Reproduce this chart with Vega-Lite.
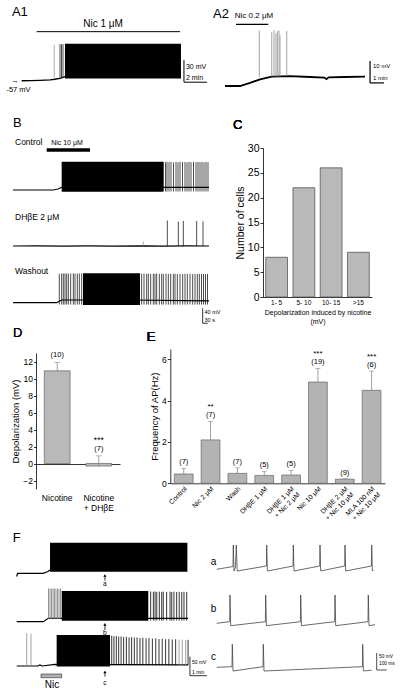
{
"$schema": "https://vega.github.io/schema/vega-lite/v6.json",
"width": 400, "height": 693, "padding": 0, "autosize": {"type": "none"},
"background": "white",
"config": {"font": "Liberation Sans", "view": {"stroke": null},
  "axis": {"labelFont": "Liberation Sans", "titleFont": "Liberation Sans", "labelColor": "black", "titleColor": "black", "domainColor": "black", "tickColor": "black", "titleFontWeight": "normal", "domainWidth": 0.8, "tickWidth": 0.8, "tickSize": 3, "grid": false, "labelPadding": 2},
  "text": {"font": "Liberation Sans", "color": "black", "fill": "black"}},
"datasets": {
"traces": [
{"p":"A1","k":"line","t":0.15,"v":-57},{"p":"A1","k":"line","t":0.87,"v":-56.9},{"p":"A1","k":"line","t":1.74,"v":-56.5},{"p":"A1","k":"line","t":2.61,"v":-55.8},{"p":"A1","k":"line","t":3.04,"v":-55.0},{"p":"A1","k":"line","t":3.48,"v":-53.8},{"p":"A1","k":"line","t":3.74,"v":-52.3},{"p":"A1","k":"line","t":3.91,"v":-51.3},{"p":"A1","k":"line","t":14.0,"v":-51.3},
{"p":"A1","k":"blk","t":3.91,"t2":14.0,"v":-54,"v2":-6.5},
{"p":"A1","k":"spkg","t":2.98,"v":-55,"v2":-8},
{"p":"A1","k":"spk","t":3.48,"v":-53,"v2":-7},{"p":"A1","k":"spk","t":3.61,"v":-53,"v2":-7.5},{"p":"A1","k":"spk","t":3.74,"v":-52,"v2":-7},
{"p":"A1","k":"rul","t":1.45,"t2":13.91,"v":9.85,"v2":9.85},{"p":"A1","k":"rul","t":14.26,"t2":14.26,"v":-59,"v2":-29},{"p":"A1","k":"rul","t":14.26,"t2":16.26,"v":-59,"v2":-59},
{"p":"A1","k":"labc","t":7.22,"v":20.3,"s":"Nic 1 μM"},
{"p":"A1","k":"labcs","t":-0.43,"v":-57,"s":"→"},{"p":"A1","k":"labcs","t":-0.13,"v":-69.7,"s":"-57 mV"},
{"p":"A1","k":"let","t":-0.70,"v":36,"s":"A1"},
{"p":"A1","k":"sb","t":14.43,"v":-37.9,"s":"30 mV"},{"p":"A1","k":"sb","t":14.43,"v":-52.6,"s":"2 min"},

{"p":"A2","k":"line","t":0,"v":-57},{"p":"A2","k":"line","t":1.07,"v":-57},{"p":"A2","k":"line","t":1.79,"v":-55.6},{"p":"A2","k":"line","t":2.5,"v":-54},{"p":"A2","k":"line","t":3.34,"v":-52.7},{"p":"A2","k":"line","t":4.64,"v":-52.5},{"p":"A2","k":"line","t":6.07,"v":-52.9},{"p":"A2","k":"line","t":7.1,"v":-53.2},{"p":"A2","k":"line","t":7.25,"v":-53.9},{"p":"A2","k":"line","t":7.4,"v":-53.1},{"p":"A2","k":"line","t":8.57,"v":-52.9},{"p":"A2","k":"line","t":10,"v":-52.7},
{"p":"A2","k":"spkg","t":2.45,"v":-53,"v2":-31.9},{"p":"A2","k":"spkg","t":3.34,"v":-52.7,"v2":-32.5},{"p":"A2","k":"spkg","t":3.5,"v":-52.7,"v2":-31.5},{"p":"A2","k":"spkg","t":3.64,"v":-52.7,"v2":-33},{"p":"A2","k":"spkg","t":3.74,"v":-52.7,"v2":-32},{"p":"A2","k":"spkg","t":3.86,"v":-52.6,"v2":-31.8},{"p":"A2","k":"spkg","t":3.93,"v":-52.6,"v2":-34},{"p":"A2","k":"spkg","t":4.41,"v":-52.5,"v2":-32},
{"p":"A2","k":"rul","t":0.79,"t2":3.09,"v":-28.95,"v2":-28.95},{"p":"A2","k":"rul","t":10.36,"t2":10.36,"v":-55.6,"v2":-45.6},{"p":"A2","k":"rul","t":10.36,"t2":11.36,"v":-55.6,"v2":-55.6},
{"p":"A2","k":"labc","t":2.07,"v":-25,"s":"Nic 0.2 μM"},
{"p":"A2","k":"let","t":-0.86,"v":-24.3,"s":"A2"},
{"p":"A2","k":"sb","t":10.57,"v":-47.9,"s":"10 mV"},{"p":"A2","k":"sb","t":10.57,"v":-53.4,"s":"1 min"},

{"p":"B1","k":"line","t":0,"v":-60},{"p":"B1","k":"line","t":241.8,"v":-60},{"p":"B1","k":"line","t":270,"v":-57.3},{"p":"B1","k":"line","t":292.2,"v":-52.8},{"p":"B1","k":"line","t":1176,"v":-52.8},
{"p":"B1","k":"blk","t":292,"t2":900,"v":-64.5,"v2":15.5},
{"p":"B1","k":"spk","t":903,"v":-64,"v2":15},{"p":"B1","k":"spk","t":915,"v":-64,"v2":14},{"p":"B1","k":"spk","t":924,"v":-64,"v2":15.5},{"p":"B1","k":"spk","t":936,"v":-64,"v2":14.5},{"p":"B1","k":"spk","t":948,"v":-64,"v2":15},{"p":"B1","k":"spk","t":963,"v":-64,"v2":13.5},{"p":"B1","k":"spk","t":978,"v":-64,"v2":15},{"p":"B1","k":"spk","t":990,"v":-64,"v2":14},{"p":"B1","k":"spk","t":1002,"v":-64,"v2":15.5},{"p":"B1","k":"spk","t":1017,"v":-64,"v2":14.5},{"p":"B1","k":"spk","t":1032,"v":-64,"v2":15},{"p":"B1","k":"spk","t":1044,"v":-64,"v2":13.8},{"p":"B1","k":"spk","t":1056,"v":-64,"v2":15},{"p":"B1","k":"spk","t":1068,"v":-64,"v2":14.2},{"p":"B1","k":"spk","t":1083,"v":-64,"v2":15.2},{"p":"B1","k":"spk","t":1098,"v":-64,"v2":14},{"p":"B1","k":"spk","t":1110,"v":-64,"v2":15},{"p":"B1","k":"spk","t":1122,"v":-64,"v2":14.5},{"p":"B1","k":"spk","t":1134,"v":-64,"v2":15},{"p":"B1","k":"spk","t":1146,"v":-64,"v2":13.9},{"p":"B1","k":"spk","t":1158,"v":-64,"v2":14.8},{"p":"B1","k":"spk","t":1170,"v":-64,"v2":14.3},
{"p":"B1","k":"rulT","t":202,"t2":462,"v":46.7,"v2":46.7},
{"p":"B1","k":"lab","t":12,"v":68.8,"s":"Control"},
{"p":"B1","k":"labc","t":324,"v":65.3,"s":"Nic 10 μM"},
{"p":"B1","k":"let","t":0,"v":118.7,"s":"B"},

{"p":"B2","k":"line","t":0,"v":-60},{"p":"B2","k":"line","t":150,"v":-59.6},{"p":"B2","k":"line","t":300,"v":-60.3},{"p":"B2","k":"line","t":450,"v":-59.7},{"p":"B2","k":"line","t":600,"v":-60.4},{"p":"B2","k":"line","t":780,"v":-59.5},{"p":"B2","k":"line","t":900,"v":-60.2},{"p":"B2","k":"line","t":1050,"v":-59.8},{"p":"B2","k":"line","t":1176,"v":-60},
{"p":"B2","k":"spk","t":926,"v":-60,"v2":8},{"p":"B2","k":"spk","t":992,"v":-60,"v2":5},{"p":"B2","k":"spk","t":1022,"v":-60,"v2":7},{"p":"B2","k":"spk","t":1102,"v":-60,"v2":6.7},{"p":"B2","k":"spk","t":1140,"v":-60,"v2":6},
{"p":"B2","k":"spkg","t":782,"v":-60,"v2":-48},
{"p":"B2","k":"lab","t":12,"v":16.5,"s":"DHβE 2 μM"},

{"p":"B3","k":"line","t":0,"v":-60},{"p":"B3","k":"line","t":262,"v":-60},{"p":"B3","k":"line","t":292,"v":-52.8},{"p":"B3","k":"line","t":700,"v":-52.8},{"p":"B3","k":"line","t":1176,"v":-55},
{"p":"B3","k":"blk","t":420,"t2":762,"v":-66,"v2":18.4},
{"p":"B3","k":"spk","t":277.8,"v":-65,"v2":17},{"p":"B3","k":"spk","t":292,"v":-65,"v2":18},{"p":"B3","k":"spk","t":302,"v":-65,"v2":17.5},{"p":"B3","k":"spk","t":312,"v":-65,"v2":18.4},{"p":"B3","k":"spk","t":322,"v":-65,"v2":17},{"p":"B3","k":"spk","t":332,"v":-65,"v2":18},{"p":"B3","k":"spk","t":346,"v":-65,"v2":17.6},{"p":"B3","k":"spk","t":362,"v":-65,"v2":18.2},{"p":"B3","k":"spk","t":372,"v":-65,"v2":17.3},{"p":"B3","k":"spk","t":386,"v":-65,"v2":18},{"p":"B3","k":"spk","t":398,"v":-65,"v2":17.8},{"p":"B3","k":"spk","t":412,"v":-65,"v2":18.3},
{"p":"B3","k":"spk","t":772,"v":-65,"v2":17.5},{"p":"B3","k":"spk","t":786,"v":-65,"v2":18},{"p":"B3","k":"spk","t":802,"v":-65,"v2":17},{"p":"B3","k":"spk","t":812,"v":-65,"v2":17.8},{"p":"B3","k":"spk","t":826,"v":-65,"v2":16.8},{"p":"B3","k":"spk","t":842,"v":-65,"v2":17.6},{"p":"B3","k":"spk","t":852,"v":-65,"v2":17},{"p":"B3","k":"spk","t":862,"v":-65,"v2":17.9},{"p":"B3","k":"spk","t":878,"v":-65,"v2":16.9},{"p":"B3","k":"spk","t":892,"v":-65,"v2":17.4},{"p":"B3","k":"spk","t":902,"v":-65,"v2":16.6},{"p":"B3","k":"spk","t":918,"v":-65,"v2":17.5},{"p":"B3","k":"spk","t":932,"v":-65,"v2":16.8},{"p":"B3","k":"spk","t":946,"v":-65,"v2":17.2},{"p":"B3","k":"spk","t":962,"v":-65,"v2":16.5},{"p":"B3","k":"spk","t":972,"v":-65,"v2":17.3},{"p":"B3","k":"spk","t":986,"v":-65,"v2":16.7},{"p":"B3","k":"spk","t":1002,"v":-65,"v2":17.1},{"p":"B3","k":"spk","t":1018,"v":-65,"v2":16.4},{"p":"B3","k":"spk","t":1032,"v":-65,"v2":17},{"p":"B3","k":"spk","t":1046,"v":-65,"v2":16.6},{"p":"B3","k":"spk","t":1062,"v":-65,"v2":17.2},{"p":"B3","k":"spk","t":1078,"v":-65,"v2":16.3},{"p":"B3","k":"spk","t":1092,"v":-65,"v2":16.9},{"p":"B3","k":"spk","t":1106,"v":-65,"v2":16.5},{"p":"B3","k":"spk","t":1118,"v":-65,"v2":17},{"p":"B3","k":"spk","t":1131,"v":-65,"v2":16.4},{"p":"B3","k":"spk","t":1143,"v":-65,"v2":16.8},{"p":"B3","k":"spk","t":1155,"v":-65,"v2":16.2},{"p":"B3","k":"spk","t":1167,"v":-65,"v2":16.7},
{"p":"B3","k":"rul","t":1138,"t2":1138,"v":-114.9,"v2":-74.9},{"p":"B3","k":"rul","t":1138,"t2":1168,"v":-114.9,"v2":-114.9},
{"p":"B3","k":"lab","t":12,"v":24.5,"s":"Washout"},
{"p":"B3","k":"sb","t":1149,"v":-84,"s":"40 mV"},{"p":"B3","k":"sb","t":1149,"v":-104.8,"s":"30 s"},

{"p":"Fa","k":"line","t":0,"v":-68.4},{"p":"Fa","k":"line","t":0.05,"v":-60},{"p":"Fa","k":"line","t":1.56,"v":-60},{"p":"Fa","k":"line","t":1.84,"v":-55.3},{"p":"Fa","k":"line","t":1.96,"v":-51.3},
{"p":"Fa","k":"blk","t":1.96,"t2":10.04,"v":-55.8,"v2":20.5},
{"p":"Fa","k":"rul","t":5.19,"t2":5.19,"v":-79.5,"v2":-67.1},
{"p":"Fa","k":"arr","t":5.19,"v":-65.8},
{"p":"Fa","k":"labc","t":5.19,"v":-88.2,"s":"a"},
{"p":"Fa","k":"let","t":-0.235,"v":34.2,"s":"F"},

{"p":"Fb","k":"line","t":0,"v":-60},{"p":"Fb","k":"line","t":1.56,"v":-60},{"p":"Fb","k":"line","t":1.86,"v":-51.1},{"p":"Fb","k":"line","t":10.08,"v":-51.1},
{"p":"Fb","k":"spkg","t":1.87,"v":-53,"v2":27.9},{"p":"Fb","k":"spkg","t":1.96,"v":-53,"v2":26.5},{"p":"Fb","k":"spkg","t":2.05,"v":-53,"v2":27.5},{"p":"Fb","k":"spkg","t":2.14,"v":-53,"v2":26.8},{"p":"Fb","k":"spkg","t":2.22,"v":-53,"v2":27.9},{"p":"Fb","k":"spkg","t":2.31,"v":-53,"v2":26.2},{"p":"Fb","k":"spkg","t":2.4,"v":-53,"v2":27.2},{"p":"Fb","k":"spkg","t":2.49,"v":-53,"v2":26.6},{"p":"Fb","k":"spkg","t":2.58,"v":-53,"v2":27.4},
{"p":"Fb","k":"blk","t":2.65,"t2":7.74,"v":-57.4,"v2":21},
{"p":"Fb","k":"spk","t":7.88,"v":-57,"v2":19.5},{"p":"Fb","k":"spk","t":8.04,"v":-57,"v2":18.9},{"p":"Fb","k":"spk","t":8.14,"v":-57,"v2":19.4},{"p":"Fb","k":"spk","t":8.24,"v":-57,"v2":18.6},{"p":"Fb","k":"spk","t":8.39,"v":-57,"v2":19.2},{"p":"Fb","k":"spk","t":8.53,"v":-57,"v2":18.5},{"p":"Fb","k":"spk","t":8.62,"v":-57,"v2":19.1},{"p":"Fb","k":"spk","t":8.82,"v":-57,"v2":18.4},{"p":"Fb","k":"spk","t":9.02,"v":-57,"v2":19},{"p":"Fb","k":"spk","t":9.12,"v":-57,"v2":18.3},{"p":"Fb","k":"spk","t":9.25,"v":-57,"v2":18.9},{"p":"Fb","k":"spk","t":9.41,"v":-57,"v2":18.2},{"p":"Fb","k":"spk","t":9.56,"v":-57,"v2":18.8},{"p":"Fb","k":"spk","t":9.71,"v":-57,"v2":18.1},{"p":"Fb","k":"spk","t":9.84,"v":-57,"v2":18.7},{"p":"Fb","k":"spk","t":10.0,"v":-57,"v2":18.2},
{"p":"Fb","k":"rul","t":5.19,"t2":5.19,"v":-81.8,"v2":-68.7},
{"p":"Fb","k":"arr","t":5.19,"v":-66.8},
{"p":"Fb","k":"labc","t":5.19,"v":-90.5,"s":"b"},

{"p":"Fc","k":"line","t":0,"v":-60},{"p":"Fc","k":"line","t":1.25,"v":-60},{"p":"Fc","k":"line","t":1.37,"v":-57.4},{"p":"Fc","k":"line","t":1.49,"v":-60},{"p":"Fc","k":"line","t":2.25,"v":-55.5},{"p":"Fc","k":"line","t":10.08,"v":-57},
{"p":"Fc","k":"spkg","t":0.59,"v":-60,"v2":26},{"p":"Fc","k":"spkg","t":0.84,"v":-60,"v2":25},
{"p":"Fc","k":"blk","t":2.35,"t2":5.49,"v":-61.3,"v2":21.6},
{"p":"Fc","k":"spk","t":5.59,"v":-58,"v2":19.5},{"p":"Fc","k":"spk","t":5.72,"v":-58,"v2":18.2},{"p":"Fc","k":"spk","t":5.86,"v":-58,"v2":18.8},{"p":"Fc","k":"spk","t":6.0,"v":-58,"v2":17.1},{"p":"Fc","k":"spk","t":6.14,"v":-58,"v2":17.9},{"p":"Fc","k":"spk","t":6.29,"v":-58,"v2":16.4},{"p":"Fc","k":"spk","t":6.45,"v":-58,"v2":16.9},{"p":"Fc","k":"spk","t":6.61,"v":-58,"v2":15.2},{"p":"Fc","k":"spk","t":6.76,"v":-58,"v2":16.0},{"p":"Fc","k":"spk","t":6.92,"v":-58,"v2":14.8},{"p":"Fc","k":"spk","t":7.08,"v":-58,"v2":15.3},{"p":"Fc","k":"spk","t":7.25,"v":-58,"v2":13.6},{"p":"Fc","k":"spk","t":7.42,"v":-58,"v2":14.4},{"p":"Fc","k":"spk","t":7.61,"v":-58,"v2":12.9},{"p":"Fc","k":"spk","t":7.78,"v":-58,"v2":13.5},{"p":"Fc","k":"spk","t":7.98,"v":-58,"v2":12.2},{"p":"Fc","k":"spk","t":8.18,"v":-58,"v2":12.8},{"p":"Fc","k":"spk","t":8.37,"v":-58,"v2":11.1},{"p":"Fc","k":"spk","t":8.56,"v":-58,"v2":11.9},{"p":"Fc","k":"spk","t":8.76,"v":-58,"v2":10.4},{"p":"Fc","k":"spk","t":8.95,"v":-58,"v2":11.0},{"p":"Fc","k":"spk","t":9.15,"v":-58,"v2":9.8},{"p":"Fc","k":"spk","t":9.35,"v":-58,"v2":10.3},{"p":"Fc","k":"spkg","t":9.55,"v":-58,"v2":9.1},{"p":"Fc","k":"spkg","t":9.74,"v":-58,"v2":9.6},{"p":"Fc","k":"spkg","t":9.94,"v":-58,"v2":8.4},{"p":"Fc","k":"spk","t":10.08,"v":-58,"v2":8.9},
{"p":"Fc","k":"rul","t":5.19,"t2":5.19,"v":-88.2,"v2":-74.5},{"p":"Fc","k":"rul","t":10.19,"t2":10.19,"v":-85.5,"v2":-35.5},{"p":"Fc","k":"rul","t":10.19,"t2":11.19,"v":-85.5,"v2":-85.5},
{"p":"Fc","k":"arr","t":5.19,"v":-75.8},
{"p":"Fc","k":"nic","t":1.43,"t2":2.65,"v":-81.1,"v2":-90.8},
{"p":"Fc","k":"labc","t":5.19,"v":-103.9,"s":"c"},
{"p":"Fc","k":"labcl","t":2.08,"v":-110,"s":"Nic"},
{"p":"Fc","k":"sb","t":10.31,"v":-48.7,"s":"50 mV"},{"p":"Fc","k":"sb","t":10.31,"v":-75,"s":"1 min"},

{"p":"Ra","k":"line","t":0,"v":-60},{"p":"Ra","k":"line","t":163,"v":-51.8},{"p":"Ra","k":"line","t":166,"v":11.5},{"p":"Ra","k":"line","t":173,"v":-65},{"p":"Ra","k":"line","t":188,"v":-53.2},{"p":"Ra","k":"line","t":196,"v":11.5},{"p":"Ra","k":"line","t":205,"v":-65},{"p":"Ra","k":"line","t":497,"v":-50.3},{"p":"Ra","k":"line","t":500,"v":11.5},{"p":"Ra","k":"line","t":507,"v":-65},{"p":"Ra","k":"line","t":763,"v":-50.3},{"p":"Ra","k":"line","t":766,"v":11.5},{"p":"Ra","k":"line","t":773,"v":-65},{"p":"Ra","k":"line","t":1030,"v":-50.3},{"p":"Ra","k":"line","t":1033,"v":11.5},{"p":"Ra","k":"line","t":1040,"v":-65},{"p":"Ra","k":"line","t":1280,"v":-50.3},{"p":"Ra","k":"line","t":1283,"v":11.5},{"p":"Ra","k":"line","t":1290,"v":-65},{"p":"Ra","k":"line","t":1547,"v":-50.3},{"p":"Ra","k":"line","t":1550,"v":11.5},{"p":"Ra","k":"line","t":1557,"v":-65},{"p":"Ra","k":"line","t":1566,"v":-62},
{"p":"Ra","k":"labc","t":-32,"v":-37.6,"s":"a"},

{"p":"Rb","k":"line","t":0,"v":-60},{"p":"Rb","k":"line","t":130,"v":-55.3},{"p":"Rb","k":"line","t":133,"v":23.2},{"p":"Rb","k":"line","t":140,"v":-67},{"p":"Rb","k":"line","t":487,"v":-55.3},{"p":"Rb","k":"line","t":490,"v":23.2},{"p":"Rb","k":"line","t":497,"v":-67},{"p":"Rb","k":"line","t":837,"v":-55.3},{"p":"Rb","k":"line","t":840,"v":23.2},{"p":"Rb","k":"line","t":847,"v":-67},{"p":"Rb","k":"line","t":1180,"v":-55.3},{"p":"Rb","k":"line","t":1183,"v":23.2},{"p":"Rb","k":"line","t":1190,"v":-67},{"p":"Rb","k":"line","t":1513,"v":-55.3},{"p":"Rb","k":"line","t":1516,"v":23.2},{"p":"Rb","k":"line","t":1523,"v":-67},{"p":"Rb","k":"line","t":1583,"v":-64},
{"p":"Rb","k":"labc","t":-32,"v":-17.9,"s":"b"},

{"p":"Rc","k":"line","t":0,"v":-60},{"p":"Rc","k":"line","t":153,"v":-58.2},{"p":"Rc","k":"line","t":156,"v":7.6},{"p":"Rc","k":"line","t":163,"v":-70.9},{"p":"Rc","k":"line","t":463,"v":-58.2},{"p":"Rc","k":"line","t":466,"v":7.6},{"p":"Rc","k":"line","t":473,"v":-70.9},{"p":"Rc","k":"line","t":1457,"v":-58.2},{"p":"Rc","k":"line","t":1460,"v":7.6},{"p":"Rc","k":"line","t":1467,"v":-70.9},{"p":"Rc","k":"line","t":1550,"v":-68.5},
{"p":"Rc","k":"rul","t":1600,"t2":1600,"v":-67.9,"v2":-17.9},{"p":"Rc","k":"rul","t":1600,"t2":1700,"v":-67.9,"v2":-67.9},
{"p":"Rc","k":"labc","t":-32,"v":-28.8,"s":"c"},
{"p":"Rc","k":"sb","t":1623,"v":-28.8,"s":"50 mV"},{"p":"Rc","k":"sb","t":1623,"v":-50.3,"s":"100 ms"}
],
"hist": [{"bin":"1- 5","n":8},{"bin":"5- 10","n":22},{"bin":"10- 15","n":26},{"bin":">15","n":9}],
"dep": [{"cond":"Nicotine","m":10.9,"hi":11.9,"n":"(10)","sig":""},{"cond":"Nicotine + DHβE","m":-0.3,"hi":0.9,"n":"(7)","sig":"***"}],
"freq": [{"c":"Control","m":0.45,"hi":0.72,"n":"(7)","sig":""},{"c":"Nic 2 μM","m":2.1,"hi":3.0,"n":"(7)","sig":"**"},{"c":"Wash","m":0.48,"hi":0.75,"n":"(7)","sig":""},{"c":"DHβE 1 μM","m":0.38,"hi":0.58,"n":"(5)","sig":""},{"c":"DHβE 1 μM + Nic 2 μM","m":0.4,"hi":0.62,"n":"(5)","sig":""},{"c":"Nic 10 μM","m":4.9,"hi":5.56,"n":"(19)","sig":"***"},{"c":"DHβE 2 μM + Nic 10 μM","m":0.2,"hi":0.23,"n":"(9)","sig":""},{"c":"MLA 100 nM + Nic 10 μM","m":4.5,"hi":5.43,"n":"(6)","sig":"***"}]
},
"data": {"name": "traces"},
"layer": [
{"transform":[{"filter":"datum.p==='A1'"}],
 "encoding":{"x":{"field":"t","type":"quantitative","scale":{"domain":[0,14.35],"range":[20,185],"nice":false,"zero":false},"axis":null},
             "y":{"field":"v","type":"quantitative","scale":{"domain":[-65,0],"range":[86.6,38.9],"nice":false,"zero":false},"axis":null}},
 "layer":[
  {"transform":[{"filter":"datum.k==='line'"}],"mark":{"type":"line","color":"black","strokeWidth":1.3}},
  {"transform":[{"filter":"datum.k==='blk'"}],"mark":{"type":"rect","color":"black"},"encoding":{"x2":{"field":"t2"},"y2":{"field":"v2"}}},
  {"transform":[{"filter":"datum.k==='spk'"}],"mark":{"type":"rule","color":"black","strokeWidth":0.7},"encoding":{"y2":{"field":"v2"}}},
  {"transform":[{"filter":"datum.k==='spkg'"}],"mark":{"type":"rule","color":"#8c8c8c","strokeWidth":0.7},"encoding":{"y2":{"field":"v2"}}},
  {"transform":[{"filter":"datum.k==='rul'"}],"mark":{"type":"rule","color":"black","strokeWidth":1},"encoding":{"x2":{"field":"t2"},"y2":{"field":"v2"}}},
  {"transform":[{"filter":"datum.k==='labc'"}],"mark":{"type":"text","color":"black","align":"center","baseline":"middle","fontSize":10},"encoding":{"text":{"field":"s"}}},
  {"transform":[{"filter":"datum.k==='labcs'"}],"mark":{"type":"text","color":"black","align":"center","baseline":"middle","fontSize":7.5},"encoding":{"text":{"field":"s"}}},
  {"transform":[{"filter":"datum.k==='let'"}],"mark":{"type":"text","color":"black","align":"left","baseline":"middle","fontSize":13},"encoding":{"text":{"field":"s"}}},
  {"transform":[{"filter":"datum.k==='sb'"}],"mark":{"type":"text","color":"black","align":"left","baseline":"middle","fontSize":7},"encoding":{"text":{"field":"s"}}}
 ]},
{"transform":[{"filter":"datum.p==='A2'"}],
 "encoding":{"x":{"field":"t","type":"quantitative","scale":{"domain":[0,10],"range":[225,365],"nice":false,"zero":false},"axis":null},
             "y":{"field":"v","type":"quantitative","scale":{"domain":[-62,-27],"range":[97,20],"nice":false,"zero":false},"axis":null}},
 "layer":[
  {"transform":[{"filter":"datum.k==='line'"}],"mark":{"type":"line","color":"black","strokeWidth":1.8}},
  {"transform":[{"filter":"datum.k==='spkg'"}],"mark":{"type":"rule","color":"#8c8c8c","strokeWidth":0.8},"encoding":{"y2":{"field":"v2"}}},
  {"transform":[{"filter":"datum.k==='rul'"}],"mark":{"type":"rule","color":"black","strokeWidth":1.2},"encoding":{"x2":{"field":"t2"},"y2":{"field":"v2"}}},
  {"transform":[{"filter":"datum.k==='labc'"}],"mark":{"type":"text","color":"black","align":"center","baseline":"middle","fontSize":8},"encoding":{"text":{"field":"s"}}},
  {"transform":[{"filter":"datum.k==='let'"}],"mark":{"type":"text","color":"black","align":"left","baseline":"middle","fontSize":13},"encoding":{"text":{"field":"s"}}},
  {"transform":[{"filter":"datum.k==='sb'"}],"mark":{"type":"text","color":"black","align":"left","baseline":"middle","fontSize":6},"encoding":{"text":{"field":"s"}}}
 ]},
{"transform":[{"filter":"datum.p==='B1'"}],
 "encoding":{"x":{"field":"t","type":"quantitative","scale":{"domain":[0,1176],"range":[13,209],"nice":false,"zero":false},"axis":null},
             "y":{"field":"v","type":"quantitative","scale":{"domain":[-70,20],"range":[193.75,160],"nice":false,"zero":false},"axis":null}},
 "layer":[
  {"transform":[{"filter":"datum.k==='line'"}],"mark":{"type":"line","color":"black","strokeWidth":1.2}},
  {"transform":[{"filter":"datum.k==='blk'"}],"mark":{"type":"rect","color":"black"},"encoding":{"x2":{"field":"t2"},"y2":{"field":"v2"}}},
  {"transform":[{"filter":"datum.k==='spk'"}],"mark":{"type":"rule","color":"black","strokeWidth":0.7},"encoding":{"y2":{"field":"v2"}}},
  {"transform":[{"filter":"datum.k==='rulT'"}],"mark":{"type":"rule","color":"black","strokeWidth":3.3},"encoding":{"x2":{"field":"t2"},"y2":{"field":"v2"}}},
  {"transform":[{"filter":"datum.k==='lab'"}],"mark":{"type":"text","color":"black","align":"left","baseline":"middle","fontSize":8.5},"encoding":{"text":{"field":"s"}}},
  {"transform":[{"filter":"datum.k==='labc'"}],"mark":{"type":"text","color":"black","align":"center","baseline":"middle","fontSize":7},"encoding":{"text":{"field":"s"}}},
  {"transform":[{"filter":"datum.k==='let'"}],"mark":{"type":"text","color":"black","align":"left","baseline":"middle","fontSize":13},"encoding":{"text":{"field":"s"}}}
 ]},
{"transform":[{"filter":"datum.p==='B2'"}],
 "encoding":{"x":{"field":"t","type":"quantitative","scale":{"domain":[0,1176],"range":[13,209],"nice":false,"zero":false},"axis":null},
             "y":{"field":"v","type":"quantitative","scale":{"domain":[-70,20],"range":[249.75,216],"nice":false,"zero":false},"axis":null}},
 "layer":[
  {"transform":[{"filter":"datum.k==='line'"}],"mark":{"type":"line","color":"black","strokeWidth":1.2}},
  {"transform":[{"filter":"datum.k==='spk'"}],"mark":{"type":"rule","color":"black","strokeWidth":0.7},"encoding":{"y2":{"field":"v2"}}},
  {"transform":[{"filter":"datum.k==='spkg'"}],"mark":{"type":"rule","color":"#8c8c8c","strokeWidth":0.7},"encoding":{"y2":{"field":"v2"}}},
  {"transform":[{"filter":"datum.k==='lab'"}],"mark":{"type":"text","color":"black","align":"left","baseline":"middle","fontSize":8.5},"encoding":{"text":{"field":"s"}}}
 ]},
{"transform":[{"filter":"datum.p==='B3'"}],
 "encoding":{"x":{"field":"t","type":"quantitative","scale":{"domain":[0,1176],"range":[13,209],"nice":false,"zero":false},"axis":null},
             "y":{"field":"v","type":"quantitative","scale":{"domain":[-70,20],"range":[306.45,272.7],"nice":false,"zero":false},"axis":null}},
 "layer":[
  {"transform":[{"filter":"datum.k==='line'"}],"mark":{"type":"line","color":"black","strokeWidth":1.2}},
  {"transform":[{"filter":"datum.k==='blk'"}],"mark":{"type":"rect","color":"black"},"encoding":{"x2":{"field":"t2"},"y2":{"field":"v2"}}},
  {"transform":[{"filter":"datum.k==='spk'"}],"mark":{"type":"rule","color":"black","strokeWidth":0.7},"encoding":{"y2":{"field":"v2"}}},
  {"transform":[{"filter":"datum.k==='rul'"}],"mark":{"type":"rule","color":"black","strokeWidth":0.8},"encoding":{"x2":{"field":"t2"},"y2":{"field":"v2"}}},
  {"transform":[{"filter":"datum.k==='lab'"}],"mark":{"type":"text","color":"black","align":"left","baseline":"middle","fontSize":8.5},"encoding":{"text":{"field":"s"}}},
  {"transform":[{"filter":"datum.k==='sb'"}],"mark":{"type":"text","color":"black","align":"left","baseline":"middle","fontSize":5.5},"encoding":{"text":{"field":"s"}}}
 ]},
{"data":{"name":"hist"},
 "encoding":{"x":{"field":"bin","type":"nominal","sort":null,"scale":{"range":[263,372],"paddingInner":0.2,"paddingOuter":0.1},
                  "axis":{"orient":"bottom","offset":-396,"title":["Depolarization induced by nicotine","(mV)"],"titleFontSize":7,"titlePadding":3,"titleLineHeight":9,"labelAngle":0,"labelFontSize":6.5,"ticks":false,"labelPadding":2}},
             "y":{"field":"n","type":"quantitative","scale":{"domain":[0,30],"range":[297,148],"nice":false,"zero":false},
                  "axis":{"orient":"left","offset":-263,"values":[0,5,10,15,20,25,30],"title":"Number of cells","titleFontSize":10.5,"labelFontSize":10.5,"labelPadding":1,"titlePadding":2}}},
 "layer":[
  {"mark":{"type":"bar","fill":"#b9b9b9","stroke":"#555","strokeWidth":0.8}},
  {"mark":{"type":"text","color":"black","text":"C","fontSize":13,"align":"left","baseline":"middle","dx":-32.7},"encoding":{"x":{"datum":"1- 5","bandPosition":0},"y":{"datum":34.7}}}
 ]},
{"data":{"name":"dep"},
 "encoding":{"x":{"field":"cond","type":"nominal","sort":null,"scale":{"range":[36,120],"paddingInner":0.38,"paddingOuter":0.2},
                  "axis":{"orient":"bottom","offset":-204,"title":null,"domain":false,"ticks":false,"labelAngle":0,"labelFontSize":8.5,"labelPadding":4,"labelLineHeight":10,"labelExpr":"indexof(datum.label,' + ')>0?[slice(datum.label,0,indexof(datum.label,' + ')),slice(datum.label,indexof(datum.label,' + ')+1)]:datum.label"}},
             "y":{"field":"m","type":"quantitative","scale":{"domain":[-3,13],"range":[489,353],"nice":false,"zero":false},
                  "axis":{"orient":"left","offset":-36,"values":[-2,0,2,4,6,8,10,12],"title":"Depolarization (mV)","titleFontSize":9.5,"labelFontSize":8.5,"tickSize":2.5,"labelPadding":1,"titlePadding":2,"grid":true,"gridColor":"black","gridWidth":0.8,"gridOpacity":{"condition":{"test":"datum.value === 0","value":1},"value":0}}}},
 "layer":[
  {"mark":{"type":"bar","fill":"#b9b9b9","stroke":"#666","strokeWidth":0.7}},
  {"mark":{"type":"rule","color":"#888","strokeWidth":0.8},"encoding":{"y2":{"field":"hi"}}},
  {"mark":{"type":"tick","color":"#888","thickness":0.8},"encoding":{"y":{"field":"hi","type":"quantitative"},"size":{"value":6}}},
  {"mark":{"type":"text","color":"black","dy":-7,"fontSize":7.5,"baseline":"middle"},"encoding":{"y":{"field":"hi","type":"quantitative"},"text":{"field":"n"}}},
  {"mark":{"type":"text","color":"black","dy":-16,"fontSize":8.5,"baseline":"middle"},"encoding":{"y":{"field":"hi","type":"quantitative"},"text":{"field":"sig"}}},
  {"mark":{"type":"text","color":"black","text":"D","fontSize":13,"align":"left","baseline":"middle","dx":-31.3},"encoding":{"x":{"datum":"Nicotine","bandPosition":0},"y":{"datum":15.4}}}
 ]},
{"data":{"name":"freq"},
 "encoding":{"x":{"field":"c","type":"nominal","sort":null,"scale":{"range":[170.3,385],"paddingInner":0.3,"paddingOuter":0.15},
                  "axis":{"orient":"bottom","offset":-209.7,"title":null,"ticks":false,"labelAngle":-45,"labelFontSize":6.8,"labelPadding":2,"labelLineHeight":8,"labelExpr":"indexof(datum.label,' + ')>0?[slice(datum.label,0,indexof(datum.label,' + ')),slice(datum.label,indexof(datum.label,' + ')+1)]:datum.label"}},
             "y":{"field":"m","type":"quantitative","scale":{"domain":[0,6.5],"range":[483.3,349],"nice":false,"zero":false},
                  "axis":{"orient":"left","offset":-170.3,"values":[0,2,4,6],"title":"Frequency of AP(Hz)","titleFontSize":9.5,"labelFontSize":8.5,"labelPadding":1,"titlePadding":2}}},
 "layer":[
  {"mark":{"type":"bar","fill":"#b3b3b3","stroke":"#666","strokeWidth":0.7}},
  {"mark":{"type":"rule","color":"#888","strokeWidth":0.8},"encoding":{"y2":{"field":"hi"}}},
  {"mark":{"type":"tick","color":"#888","thickness":0.8},"encoding":{"y":{"field":"hi","type":"quantitative"},"size":{"value":5}}},
  {"mark":{"type":"text","color":"black","dy":-6,"fontSize":7.5,"baseline":"middle"},"encoding":{"y":{"field":"hi","type":"quantitative"},"text":{"field":"n"}}},
  {"mark":{"type":"text","color":"black","dy":-14.5,"fontSize":8,"baseline":"middle"},"encoding":{"y":{"field":"hi","type":"quantitative"},"text":{"field":"sig"}}},
  {"mark":{"type":"text","color":"black","text":"E","fontSize":13,"align":"left","baseline":"middle","dx":-27.6},"encoding":{"x":{"datum":"Control","bandPosition":0},"y":{"datum":7.08}}}
 ]},
{"transform":[{"filter":"datum.p==='Fa'"}],
 "encoding":{"x":{"field":"t","type":"quantitative","scale":{"domain":[0,10],"range":[16.7,186.7],"nice":false,"zero":false},"axis":null},
             "y":{"field":"v","type":"quantitative","scale":{"domain":[-70,30],"range":[577.1,539.1],"nice":false,"zero":false},"axis":null}},
 "layer":[
  {"transform":[{"filter":"datum.k==='line'"}],"mark":{"type":"line","color":"black","strokeWidth":1.2}},
  {"transform":[{"filter":"datum.k==='blk'"}],"mark":{"type":"rect","color":"black"},"encoding":{"x2":{"field":"t2"},"y2":{"field":"v2"}}},
  {"transform":[{"filter":"datum.k==='rul'"}],"mark":{"type":"rule","color":"black","strokeWidth":0.8},"encoding":{"x2":{"field":"t2"},"y2":{"field":"v2"}}},
  {"transform":[{"filter":"datum.k==='arr'"}],"mark":{"type":"point","shape":"triangle-up","filled":true,"color":"black","size":10,"opacity":1}},
  {"transform":[{"filter":"datum.k==='labc'"}],"mark":{"type":"text","color":"black","align":"center","baseline":"middle","fontSize":6.5},"encoding":{"text":{"field":"s"}}},
  {"transform":[{"filter":"datum.k==='let'"}],"mark":{"type":"text","color":"black","align":"left","baseline":"middle","fontSize":13},"encoding":{"text":{"field":"s"}}}
 ]},
{"transform":[{"filter":"datum.p==='Fb'"}],
 "encoding":{"x":{"field":"t","type":"quantitative","scale":{"domain":[0,10],"range":[16.7,186.7],"nice":false,"zero":false},"axis":null},
             "y":{"field":"v","type":"quantitative","scale":{"domain":[-70,30],"range":[625.5,587.5],"nice":false,"zero":false},"axis":null}},
 "layer":[
  {"transform":[{"filter":"datum.k==='line'"}],"mark":{"type":"line","color":"black","strokeWidth":1.2}},
  {"transform":[{"filter":"datum.k==='spkg'"}],"mark":{"type":"rule","color":"#777","strokeWidth":0.8},"encoding":{"y2":{"field":"v2"}}},
  {"transform":[{"filter":"datum.k==='blk'"}],"mark":{"type":"rect","color":"black"},"encoding":{"x2":{"field":"t2"},"y2":{"field":"v2"}}},
  {"transform":[{"filter":"datum.k==='spk'"}],"mark":{"type":"rule","color":"black","strokeWidth":0.8},"encoding":{"y2":{"field":"v2"}}},
  {"transform":[{"filter":"datum.k==='rul'"}],"mark":{"type":"rule","color":"black","strokeWidth":0.8},"encoding":{"x2":{"field":"t2"},"y2":{"field":"v2"}}},
  {"transform":[{"filter":"datum.k==='arr'"}],"mark":{"type":"point","shape":"triangle-up","filled":true,"color":"black","size":10,"opacity":1}},
  {"transform":[{"filter":"datum.k==='labc'"}],"mark":{"type":"text","color":"black","align":"center","baseline":"middle","fontSize":6.5},"encoding":{"text":{"field":"s"}}}
 ]},
{"transform":[{"filter":"datum.p==='Fc'"}],
 "encoding":{"x":{"field":"t","type":"quantitative","scale":{"domain":[0,10],"range":[16.7,186.7],"nice":false,"zero":false},"axis":null},
             "y":{"field":"v","type":"quantitative","scale":{"domain":[-70,30],"range":[669.8,631.8],"nice":false,"zero":false},"axis":null}},
 "layer":[
  {"transform":[{"filter":"datum.k==='line'"}],"mark":{"type":"line","color":"black","strokeWidth":1.2}},
  {"transform":[{"filter":"datum.k==='spkg'"}],"mark":{"type":"rule","color":"#888","strokeWidth":0.8},"encoding":{"y2":{"field":"v2"}}},
  {"transform":[{"filter":"datum.k==='blk'"}],"mark":{"type":"rect","color":"black"},"encoding":{"x2":{"field":"t2"},"y2":{"field":"v2"}}},
  {"transform":[{"filter":"datum.k==='spk'"}],"mark":{"type":"rule","color":"black","strokeWidth":0.8},"encoding":{"y2":{"field":"v2"}}},
  {"transform":[{"filter":"datum.k==='rul'"}],"mark":{"type":"rule","color":"black","strokeWidth":0.8},"encoding":{"x2":{"field":"t2"},"y2":{"field":"v2"}}},
  {"transform":[{"filter":"datum.k==='arr'"}],"mark":{"type":"point","shape":"triangle-up","filled":true,"color":"black","size":10,"opacity":1}},
  {"transform":[{"filter":"datum.k==='nic'"}],"mark":{"type":"rect","fill":"#b0b0b0","stroke":"#444","strokeWidth":0.7},"encoding":{"x2":{"field":"t2"},"y2":{"field":"v2"}}},
  {"transform":[{"filter":"datum.k==='labc'"}],"mark":{"type":"text","color":"black","align":"center","baseline":"middle","fontSize":6.5},"encoding":{"text":{"field":"s"}}},
  {"transform":[{"filter":"datum.k==='labcl'"}],"mark":{"type":"text","color":"black","align":"center","baseline":"middle","fontSize":10},"encoding":{"text":{"field":"s"}}},
  {"transform":[{"filter":"datum.k==='sb'"}],"mark":{"type":"text","color":"black","align":"left","baseline":"middle","fontSize":5},"encoding":{"text":{"field":"s"}}}
 ]},
{"transform":[{"filter":"datum.p==='Ra'"}],
 "encoding":{"x":{"field":"t","type":"quantitative","scale":{"domain":[0,1600],"range":[216.7,376.7],"nice":false,"zero":false},"axis":null},
             "y":{"field":"v","type":"quantitative","scale":{"domain":[-70,20],"range":[572.7,542.1],"nice":false,"zero":false},"axis":null}},
 "layer":[
  {"transform":[{"filter":"datum.k==='line'"}],"mark":{"type":"line","color":"#444","strokeWidth":0.8}},
  {"transform":[{"filter":"datum.k==='labc'"}],"mark":{"type":"text","color":"black","align":"center","baseline":"middle","fontSize":10},"encoding":{"text":{"field":"s"}}}
 ]},
{"transform":[{"filter":"datum.p==='Rb'"}],
 "encoding":{"x":{"field":"t","type":"quantitative","scale":{"domain":[0,1600],"range":[216.7,376.7],"nice":false,"zero":false},"axis":null},
             "y":{"field":"v","type":"quantitative","scale":{"domain":[-70,30],"range":[626.7,592.7],"nice":false,"zero":false},"axis":null}},
 "layer":[
  {"transform":[{"filter":"datum.k==='line'"}],"mark":{"type":"line","color":"#444","strokeWidth":0.8}},
  {"transform":[{"filter":"datum.k==='labc'"}],"mark":{"type":"text","color":"black","align":"center","baseline":"middle","fontSize":10},"encoding":{"text":{"field":"s"}}}
 ]},
{"transform":[{"filter":"datum.p==='Rc'"}],
 "encoding":{"x":{"field":"t","type":"quantitative","scale":{"domain":[0,1600],"range":[216.7,376.7],"nice":false,"zero":false},"axis":null},
             "y":{"field":"v","type":"quantitative","scale":{"domain":[-75,10],"range":[672.4,643.5],"nice":false,"zero":false},"axis":null}},
 "layer":[
  {"transform":[{"filter":"datum.k==='line'"}],"mark":{"type":"line","color":"#444","strokeWidth":0.8}},
  {"transform":[{"filter":"datum.k==='rul'"}],"mark":{"type":"rule","color":"black","strokeWidth":0.7},"encoding":{"x2":{"field":"t2"},"y2":{"field":"v2"}}},
  {"transform":[{"filter":"datum.k==='labc'"}],"mark":{"type":"text","color":"black","align":"center","baseline":"middle","fontSize":10},"encoding":{"text":{"field":"s"}}},
  {"transform":[{"filter":"datum.k==='sb'"}],"mark":{"type":"text","color":"black","align":"left","baseline":"middle","fontSize":4.8},"encoding":{"text":{"field":"s"}}}
 ]}
],
"resolve": {"scale": {"x": "independent", "y": "independent"}, "axis": {"x": "independent", "y": "independent"}}
}
